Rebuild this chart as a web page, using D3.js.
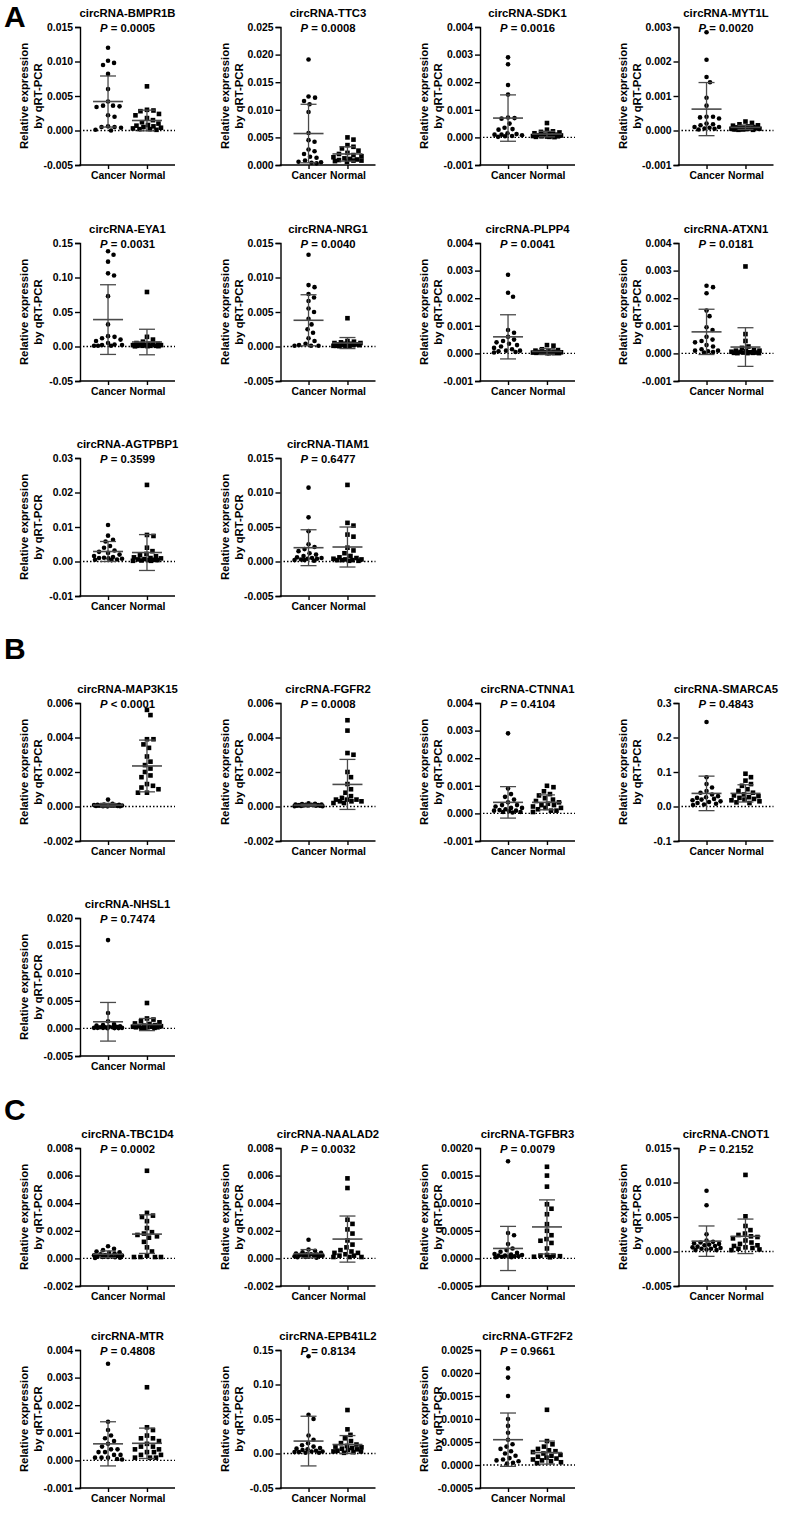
<!DOCTYPE html>
<html>
<head>
<meta charset="utf-8">
<script src="https://cdn.jsdelivr.net/npm/d3@7"></script>
<style>
  body { margin: 0; background: #fff; }
  text { font-family: Arial, "Liberation Sans", sans-serif; font-weight: bold; }
</style>
</head>
<body>
<svg id="fig"></svg>
<script>
// ---- data ----
var genes = ["BMPR1B","TTC3","SDK1","MYT1L","EYA1","NRG1","PLPP4","ATXN1","AGTPBP1","TIAM1",
             "MAP3K15","FGFR2","CTNNA1","SMARCA5","NHSL1",
             "TBC1D4","NAALAD2","TGFBR3","CNOT1","MTR","EPB41L2","GTF2F2"];
var pText = ["= 0.0005","= 0.0008","= 0.0016","= 0.0020","= 0.0031","= 0.0040","= 0.0041","= 0.0181","= 0.3599","= 0.6477",
             "< 0.0001","= 0.0008","= 0.4104","= 0.4843","= 0.7474",
             "= 0.0002","= 0.0032","= 0.0079","= 0.2152","= 0.4808","= 0.8134","= 0.9661"];
var sections = ["A", "B", "C"];
var sectionSizes = [10, 5, 7];
var groups = ["Cancer", "Normal"];

var yMin  = [-0.005,0,-0.001,-0.001,-0.05,-0.005,-0.001,-0.001,-0.01,-0.005,
             -0.002,-0.002,-0.001,-0.1,-0.005,
             -0.002,-0.002,-0.0005,-0.005,-0.001,-0.05,-0.0005];
var yMax  = [0.015,0.025,0.004,0.003,0.15,0.015,0.004,0.004,0.03,0.015,
             0.006,0.006,0.004,0.3,0.020,
             0.008,0.008,0.0020,0.015,0.004,0.15,0.0025];
var yStep = [0.005,0.005,0.001,0.001,0.05,0.005,0.001,0.001,0.01,0.005,
             0.002,0.002,0.001,0.1,0.005,
             0.002,0.002,0.0005,0.005,0.001,0.05,0.0005];
var yDigits = [3,3,3,3,2,3,3,3,2,3, 3,3,3,1,3, 3,3,4,3,3,2,4];

var cancerMean = [0.0042,0.0057,0.0007,0.00062,0.039,0.0038,0.0006,0.00078,0.0029,0.0020,
                  0.00008,0.00008,0.0004,0.038,0.0012,
                  0.0003,0.00034,0.00018,0.0015,0.0006,0.018,0.00055];
var cancerSD   = [0.0037,0.0053,0.00084,0.00077,0.0505,0.0037,0.0008,0.00082,0.0029,0.0026,
                  0.0001,0.00005,0.00057,0.05,0.0035,
                  0.00024,0.0003,0.0004,0.0022,0.0008,0.036,0.00058];
var normalMean = [0.00145,0.0020,0.00012,0.00009,0.0065,0.0005,0.00007,0.00023,0.0026,0.0021,
                  0.00235,0.00128,0.0004,0.038,0.0007,
                  0.00176,0.0014,0.00057,0.0022,0.00062,0.013,0.00027];
var normalSD   = [0.0015,0.0013,0.0001,0.00006,0.0185,0.0008,0.0001,0.0007,0.0052,0.0029,
                  0.0015,0.00145,0.00027,0.025,0.0011,
                  0.0014,0.00167,0.00049,0.0025,0.00055,0.013,0.00025];

var cancerVals = [
  [0.0120,0.0101,0.0098,0.0095,0.0082,0.0060,0.0042,0.0036,0.0035,0.0034,0.0036,0.0022,0.0020,0.0006,0.0005,0.0004,0.0005,0.0001,0.0000],
  [0.0191,0.0124,0.0122,0.0116,0.0110,0.0096,0.0058,0.0045,0.0042,0.0028,0.0025,0.0020,0.0015,0.0013,0.0008,0.0006,0.0005,0.0004,0.0003],
  [0.0029,0.00265,0.0019,0.00155,0.00072,0.0007,0.00068,0.0005,0.00035,0.0003,0.00028,0.00015,0.00012,0.0001,0.0001,0.00008,0.00005,0.00004,0.00002],
  [0.00285,0.00205,0.00155,0.0014,0.00095,0.00072,0.0004,0.0004,0.00038,0.00035,0.0002,0.00018,0.00015,0.0001,0.0001,0.00008,0.00006,0.00005,0.00003],
  [0.138,0.133,0.123,0.106,0.103,0.073,0.032,0.015,0.014,0.012,0.010,0.008,0.005,0.003,0.002,0.002,0.001,0.001,0.001],
  [0.0133,0.0089,0.0086,0.0076,0.0071,0.0066,0.0055,0.0050,0.0040,0.0032,0.0025,0.0020,0.0012,0.0008,0.0004,0.0002,0.0001,0.0001,0.0001],
  [0.00285,0.0022,0.00205,0.00085,0.00075,0.0006,0.0005,0.00045,0.0004,0.00035,0.0003,0.00025,0.0002,0.00015,0.0001,0.0001,0.00008,0.00005,0.00003],
  [0.00245,0.0024,0.00218,0.00155,0.00135,0.00095,0.00085,0.0006,0.0005,0.00045,0.0004,0.0003,0.00025,0.00015,0.0001,0.0001,0.00008,0.00005,0.00003],
  [0.0106,0.0075,0.0063,0.0058,0.0045,0.0040,0.0032,0.0028,0.0025,0.0020,0.0016,0.0013,0.0011,0.0010,0.0009,0.0008,0.0006,0.0005,0.0004],
  [0.0107,0.0064,0.0044,0.0025,0.0021,0.0018,0.0015,0.0012,0.0010,0.0008,0.0006,0.0005,0.0005,0.0004,0.0004,0.0003,0.0002,0.0002,0.0001],
  [0.0004,0.00015,0.00012,0.0001,0.0001,0.00009,0.00008,0.00007,0.00006,0.00006,0.00005,0.00005,0.00004,0.00004,0.00003,0.00003,0.00002,0.00002,0.00001],
  [0.00018,0.00015,0.00014,0.00012,0.00012,0.0001,0.0001,0.00009,0.00008,0.00008,0.00007,0.00006,0.00006,0.00005,0.00004,0.00004,0.00003,0.00002,0.00002],
  [0.0029,0.0009,0.0007,0.0006,0.0005,0.0004,0.0003,0.0003,0.00025,0.0002,0.0002,0.00015,0.00012,0.0001,0.0001,0.00008,0.00005,0.00005,0.00003],
  [0.245,0.085,0.065,0.055,0.045,0.040,0.035,0.030,0.027,0.025,0.022,0.020,0.018,0.015,0.013,0.010,0.008,0.006,0.004],
  [0.0160,0.0028,0.0013,0.0008,0.0006,0.0005,0.0004,0.0003,0.0003,0.0002,0.0002,0.0002,0.0001,0.0001,0.0001,0.0001,0.00005,0.00005,0.00003],
  [0.00088,0.0007,0.0006,0.0005,0.00045,0.0004,0.00035,0.0003,0.00025,0.00022,0.0002,0.00018,0.00015,0.00012,0.0001,0.0001,0.00008,0.00005,0.00003],
  [0.00135,0.00065,0.00055,0.00045,0.0004,0.00035,0.0003,0.0003,0.00028,0.00025,0.00022,0.0002,0.0002,0.00018,0.00015,0.00012,0.0001,0.00008,0.00005],
  [0.00176,0.00046,0.00042,0.00026,0.00018,0.00015,0.00012,0.0001,0.00008,0.00007,0.00006,0.00005,0.00005,0.00004,0.00004,0.00003,0.00003,0.00002,0.00002],
  [0.0088,0.0067,0.0025,0.0016,0.0014,0.0013,0.0012,0.0011,0.0010,0.0009,0.0008,0.0007,0.0006,0.0005,0.0004,0.0004,0.0003,0.0002,0.0002],
  [0.0035,0.0014,0.0011,0.0009,0.0008,0.0007,0.0006,0.0005,0.0004,0.0004,0.0003,0.0003,0.0002,0.0002,0.0001,0.0001,0.0001,0.00005,0.00003],
  [0.141,0.056,0.050,0.026,0.020,0.015,0.012,0.010,0.008,0.007,0.006,0.005,0.004,0.003,0.003,0.002,0.002,0.001,0.001],
  [0.0021,0.0019,0.0015,0.0010,0.00085,0.0007,0.00055,0.00045,0.0004,0.00035,0.0003,0.00025,0.0002,0.00015,0.00012,0.0001,0.00008,0.00005,0.00003]
];

var normalVals = [
  [0.0064,0.0030,0.0029,0.0028,0.0024,0.0022,0.0018,0.0015,0.0012,0.0010,0.0008,0.0007,0.0006,0.0005,0.0004,0.0003,0.0002,0.0002,0.0001],
  [0.0050,0.0046,0.0036,0.0033,0.0030,0.0026,0.0022,0.0020,0.0018,0.0016,0.0014,0.0012,0.0011,0.0010,0.0009,0.0008,0.0008,0.0007,0.0006],
  [0.00052,0.00028,0.00022,0.0002,0.00018,0.00015,0.00012,0.0001,0.0001,0.00008,0.00007,0.00006,0.00005,0.00004,0.00004,0.00003,0.00002,0.00002,0.00001],
  [0.00026,0.00022,0.00018,0.00015,0.00014,0.00012,0.0001,0.0001,0.00009,0.00008,0.00007,0.00006,0.00005,0.00005,0.00004,0.00003,0.00003,0.00002,0.00002],
  [0.079,0.014,0.010,0.007,0.005,0.004,0.004,0.003,0.003,0.002,0.002,0.002,0.001,0.001,0.001,0.001,0.0005,0.0005,0.0003],
  [0.0041,0.0008,0.0007,0.0006,0.0005,0.0005,0.0004,0.0004,0.0003,0.0003,0.0003,0.0002,0.0002,0.0002,0.0001,0.0001,0.0001,0.0001,0.00005],
  [0.0003,0.00028,0.00015,0.00012,0.0001,0.00008,0.00006,0.00005,0.00004,0.00004,0.00003,0.00003,0.00002,0.00002,0.00002,0.00001,0.00001,0.00001,0.00001],
  [0.00315,0.0007,0.00045,0.00025,0.0002,0.00012,0.0001,0.0001,0.00008,0.00006,0.00005,0.00004,0.00003,0.00003,0.00002,0.00002,0.00001,0.00001,0.00001],
  [0.0222,0.0077,0.0074,0.0040,0.0030,0.0022,0.0018,0.0015,0.0012,0.0010,0.0009,0.0007,0.0006,0.0005,0.0004,0.0004,0.0003,0.0002,0.0002],
  [0.0111,0.0056,0.0052,0.0039,0.0036,0.0020,0.0016,0.0012,0.0008,0.0006,0.0005,0.0004,0.0003,0.0003,0.0002,0.0002,0.0002,0.0001,0.0001],
  [0.0056,0.0053,0.0039,0.0039,0.0036,0.0034,0.0029,0.0026,0.0024,0.0022,0.0020,0.0018,0.0017,0.0013,0.0012,0.0011,0.0010,0.0008,0.0008],
  [0.0050,0.0044,0.0031,0.0030,0.0020,0.0017,0.0013,0.0010,0.0008,0.0006,0.0005,0.0004,0.0004,0.0004,0.0003,0.0003,0.0003,0.0002,0.0002],
  [0.0010,0.00095,0.0008,0.0007,0.00065,0.00055,0.0005,0.00045,0.0004,0.00035,0.0003,0.0003,0.00025,0.0002,0.0002,0.00015,0.0001,0.0001,0.00005],
  [0.095,0.085,0.075,0.065,0.060,0.050,0.045,0.040,0.035,0.032,0.030,0.027,0.025,0.022,0.020,0.018,0.015,0.012,0.010],
  [0.0046,0.0018,0.0016,0.0013,0.0011,0.0009,0.0008,0.0006,0.0005,0.0004,0.0004,0.0003,0.0003,0.0002,0.0002,0.0002,0.0001,0.0001,0.0001],
  [0.00635,0.0033,0.0031,0.0030,0.0027,0.0022,0.0019,0.0018,0.0017,0.0016,0.0015,0.0012,0.0008,0.0005,0.0002,0.0001,0.0001,0.0001,0.0001],
  [0.0058,0.0051,0.0028,0.0025,0.0021,0.0018,0.0013,0.0010,0.0008,0.0006,0.0005,0.0004,0.0004,0.0003,0.0002,0.0002,0.0001,0.0001,0.0001],
  [0.00166,0.0015,0.0013,0.00098,0.0009,0.0008,0.00062,0.0005,0.00042,0.00035,0.00032,0.00028,0.00018,0.00006,0.00005,0.00005,0.00004,0.00003,0.00002],
  [0.0111,0.0051,0.0037,0.0031,0.0026,0.0024,0.0022,0.0021,0.0019,0.0016,0.0013,0.0011,0.0009,0.0008,0.0006,0.0005,0.0004,0.0003,0.0002],
  [0.00265,0.0012,0.0011,0.0009,0.0008,0.0008,0.0007,0.0006,0.0005,0.0005,0.0004,0.0004,0.0003,0.0003,0.0002,0.0002,0.0001,0.0001,0.0001],
  [0.063,0.035,0.027,0.022,0.018,0.015,0.013,0.011,0.010,0.009,0.008,0.007,0.006,0.005,0.004,0.003,0.003,0.002,0.001],
  [0.0012,0.00052,0.00045,0.0004,0.00035,0.00032,0.0003,0.00028,0.00025,0.00022,0.0002,0.00018,0.00016,0.00014,0.00012,0.0001,0.00008,0.00006,0.00004]
];

// ---- layout ----
var W = 786, H = 1525;
var rowTop = [27, 243, 458, 703, 918, 1148, 1350];
var colAxis = [80, 280.5, 480, 678.5];
var sectionRow0 = [0, 3, 5];
var sectionLabelY = [27, 659, 1120];
var plotH = 138, plotW = 95;
var barColor = "#4a4a4a";

var svg = d3.select("#fig").attr("width", W).attr("height", H);
svg.append("rect").attr("width", W).attr("height", H).attr("fill", "#fff");

// section letters
svg.selectAll("text.sec").data(sections).enter().append("text")
   .attr("class", "sec")
   .attr("x", 4)
   .attr("y", function (d, i) { return sectionLabelY[i]; })
   .attr("font-size", "30px")
   .text(function (d) { return d; });

// spread points sideways like a column scatter
function swarm(vals, y, d, maxOff) {
  var placed = [];
  var order = vals.map(function (v, i) { return i; })
                  .sort(function (a, b) { return vals[b] - vals[a]; });
  var out = new Array(vals.length);
  order.forEach(function (i) {
    var py = y(vals[i]);
    var best = 0, bestDist = -1;
    for (var k = 0; k <= maxOff * 4; k++) {
      var off = (k % 2 ? 1 : -1) * Math.ceil(k / 2) * 0.5;
      var minD = Infinity;
      placed.forEach(function (p) {
        var dd = Math.hypot(p.x - off, p.y - py);
        if (dd < minD) minD = dd;
      });
      if (minD >= d) { best = off; bestDist = minD; break; }
      if (minD > bestDist) { bestDist = minD; best = off; }
    }
    placed.push({ x: best, y: py });
    out[i] = { v: vals[i], dx: best };
  });
  return out;
}

function fmt(v, digits) {
  if (Math.abs(v) < 1e-12) v = 0;
  return v.toFixed(digits);
}

var idx = 0;
sections.forEach(function (sec, s) {
  for (var j = 0; j < sectionSizes[s]; j++, idx++) {
    drawPanel(idx, sectionRow0[s] + Math.floor(j / 4), j % 4);
  }
});

function drawPanel(i, row, col) {
  var top = rowTop[row], ax = colAxis[col], bottom = top + plotH;
  var g = svg.append("g");

  var y = d3.scaleLinear().domain([yMin[i], yMax[i]]).range([bottom, top]);
  var x = d3.scalePoint().domain(groups).range([ax, ax + plotW]).padding(0.72);

  var n = Math.round((yMax[i] - yMin[i]) / yStep[i]);
  var ticks = d3.range(n + 1).map(function (k) { return yMin[i] + k * yStep[i]; });

  // title and P value
  var cx = ax + plotW / 2;
  g.append("text").attr("x", cx).attr("y", top - 10.5)
   .attr("text-anchor", "middle").attr("font-size", "11.3px")
   .text("circRNA-" + genes[i]);
  var pt = g.append("text").attr("x", cx).attr("y", top + 4.5)
   .attr("text-anchor", "middle").attr("font-size", "11.3px");
  pt.append("tspan").attr("font-style", "italic").text("P");
  pt.append("tspan").text(" " + pText[i]);

  // y label
  var yl = g.append("g").attr("transform", "translate(" + (ax - 49) + "," + (top + plotH / 2) + ") rotate(-90)");
  yl.append("text").attr("x", 0).attr("y", -3).attr("text-anchor", "middle")
    .attr("font-size", "11.3px").text("Relative expression");
  yl.append("text").attr("x", 0).attr("y", 11).attr("text-anchor", "middle")
    .attr("font-size", "11.3px").text("by qRT-PCR");

  // axes
  var yAxis = g.append("g").attr("transform", "translate(" + ax + ",0)")
    .call(d3.axisLeft(y).tickValues(ticks).tickSizeOuter(0).tickSize(5).tickPadding(2)
          .tickFormat(function (v) { return fmt(v, yDigits[i]); }));
  var xAxis = g.append("g").attr("transform", "translate(0," + bottom + ")")
    .call(d3.axisBottom(x).tickSizeOuter(0).tickSize(4).tickPadding(3));
  [yAxis, xAxis].forEach(function (a) {
    a.selectAll("path, line").attr("stroke", "#000").attr("stroke-width", 1.4);
    a.selectAll("text").attr("font-size", "10.4px").attr("fill", "#000")
     .attr("font-family", "Arial, 'Liberation Sans', sans-serif").attr("font-weight", "bold");
  });
  xAxis.select("path.domain").attr("d", "M" + (ax - 0.7) + ",0H" + (ax + plotW));

  // dotted zero line
  if (yMin[i] < 0) {
    g.append("line").attr("x1", ax + 3).attr("x2", ax + plotW)
     .attr("y1", y(0)).attr("y2", y(0))
     .attr("stroke", "#000").attr("stroke-width", 1.3).attr("stroke-dasharray", "1.5,2");
  }

  // points
  var cPts = swarm(cancerVals[i], y, 6.2, 14);
  var nPts = swarm(normalVals[i], y, 6.2, 14);
  g.selectAll("circle.pt").data(cPts).enter().append("circle")
   .attr("class", "pt")
   .attr("cx", function (d) { return x("Cancer") + d.dx; })
   .attr("cy", function (d) { return y(d.v); })
   .attr("r", 2.3).attr("fill", "#000");
  g.selectAll("rect.pt").data(nPts).enter().append("rect")
   .attr("class", "pt")
   .attr("x", function (d) { return x("Normal") + d.dx - 2.3; })
   .attr("y", function (d) { return y(d.v) - 2.3; })
   .attr("width", 4.6).attr("height", 4.6).attr("fill", "#000");

  // mean and SD bars
  var stats = [
    { grp: "Cancer", m: cancerMean[i], sd: cancerSD[i] },
    { grp: "Normal", m: normalMean[i], sd: normalSD[i] }
  ];
  stats.forEach(function (s) {
    var px = x(s.grp);
    g.append("line").attr("x1", px).attr("x2", px)
     .attr("y1", y(s.m - s.sd)).attr("y2", y(s.m + s.sd))
     .attr("stroke", barColor).attr("stroke-width", 1.3);
    [s.m - s.sd, s.m + s.sd].forEach(function (v) {
      g.append("line").attr("x1", px - 8).attr("x2", px + 8)
       .attr("y1", y(v)).attr("y2", y(v))
       .attr("stroke", barColor).attr("stroke-width", 1.3);
    });
    g.append("line").attr("x1", px - 15).attr("x2", px + 15)
     .attr("y1", y(s.m)).attr("y2", y(s.m))
     .attr("stroke", barColor).attr("stroke-width", 1.6);
  });
}
</script>
</body>
</html>
